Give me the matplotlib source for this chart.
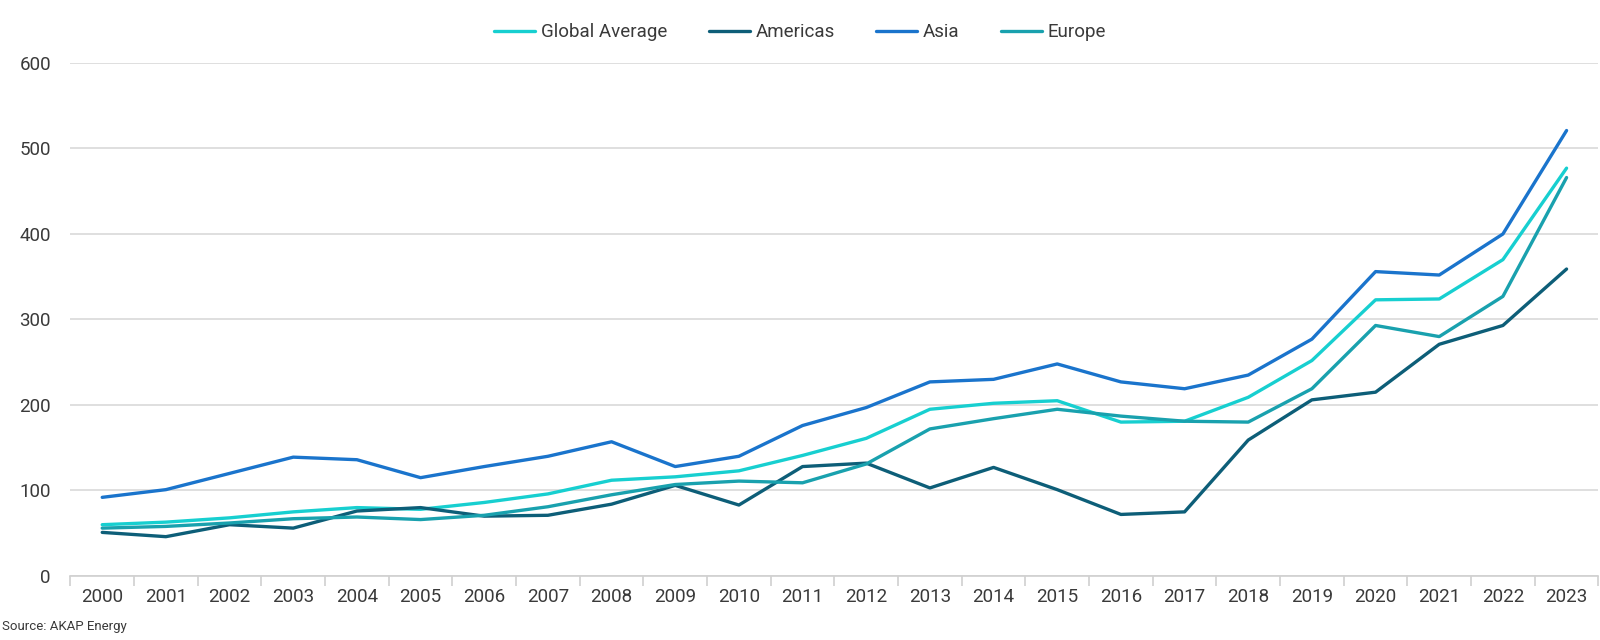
import numpy as np
import matplotlib.pyplot as plt

years = [str(y) for y in range(2000, 2024)]
global_avg = [60, 63, 68, 75, 80, 78, 86, 96, 112, 116, 123, 141, 161, 195, 202, 205, 180, 181, 209, 252, 323, 324, 370, 477]
americas = [51, 46, 60, 56, 76, 80, 70, 71, 84, 106, 83, 128, 132, 103, 127, 101, 72, 75, 159, 206, 215, 271, 293, 359]
asia = [92, 101, 120, 139, 136, 115, 128, 140, 157, 128, 140, 176, 197, 227, 230, 248, 227, 219, 235, 277, 356, 352, 400, 521]
europe = [56, 58, 62, 67, 69, 66, 71, 81, 95, 107, 111, 109, 131, 172, 184, 195, 187, 181, 180, 219, 293, 280, 327, 466]

series = [("Global Average", global_avg, "#17CFD0"),
          ("Americas", americas, "#0D5E78"),
          ("Asia", asia, "#1A74CC"),
          ("Europe", europe, "#19A1AE")]

plt.rcParams['font.family'] = ['Roboto', 'DejaVu Sans']
txt = "#3a3a3a"

fig = plt.figure(figsize=(16, 6.4), dpi=100)
ax = fig.add_axes([0.044, 0.1, 0.955, 0.8016])

x = np.arange(len(years))
for name, vals, col in series:
    ax.plot(x, vals, color=col, lw=2.4, label=name, solid_capstyle='round')

ax.set_xlim(-0.5, len(years) - 0.5)
ax.set_ylim(0, 600)
ax.set_yticks(range(0, 601, 100))
ax.set_xticks(x)
ax.set_xticklabels(years)
ax.set_xticks(np.arange(-0.5, len(years), 1), minor=True)
ax.tick_params(axis='x', which='major', length=0, labelsize=13.5, colors=txt, pad=9)
ax.tick_params(axis='x', which='minor', length=7, color="#d0d0d0", width=1.2)
ax.tick_params(axis='y', length=0, labelsize=13.5, colors=txt, pad=14)
ax.grid(axis='y', color="#d9d9d9", lw=1.2)
ax.set_axisbelow(True)
for s in ['top', 'right', 'left']:
    ax.spines[s].set_visible(False)
ax.spines['bottom'].set_color("#d0d0d0")
ax.spines['bottom'].set_linewidth(1.2)

fig.legend(loc='upper center', bbox_to_anchor=(0.5, 0.99), ncol=4, frameon=False,
           fontsize=13.5, handlelength=2.2, handletextpad=0.3, columnspacing=2.2,
           labelcolor=txt)

fig.text(0.001, 0.015, "Source: AKAP Energy", fontsize=9.5, color=txt)

fig.savefig("out.png", dpi=100)
